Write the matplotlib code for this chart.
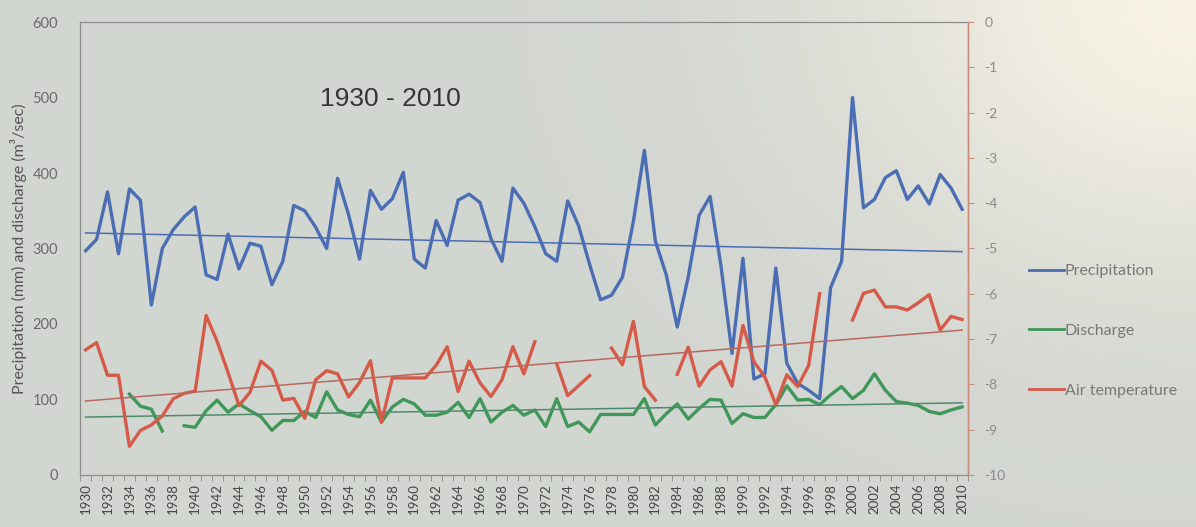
import numpy as np
import matplotlib
matplotlib.use("Agg")
import matplotlib.pyplot as plt

plt.rcParams['font.family'] = ['Lato', 'DejaVu Sans']
plt.rcParams['axes.unicode_minus'] = False

nan = np.nan
years = list(range(1930, 2011))

# precipitation (mm), left axis
precipitation = [297, 312, 375, 293, 379, 364, 225, 300, 325, 342,
                 355, 265, 259, 319, 273, 307, 303, 252, 283, 357,
                 350, 328, 300, 393, 345, 286, 377, 352, 366, 401,
                 286, 274, 337, 304, 364, 372, 361, 313, 283, 380,
                 360, 329, 293, 283, 363, 330, 279, 232, 238, 262,
                 336, 430, 310, 265, 196, 262, 344, 369, 276, 161,
                 287, 127, 134, 274, 148, 121, 112, 101, 248, 283,
                 500, 354, 365, 394, 403, 365, 383, 359, 398, 380,
                 352]

# discharge (m3/sec), left axis
discharge = [nan, nan, nan, nan, 107, 91, 87, 58, nan, 65,
             63, 85, 99, 83, 94, 85, 77, 59, 72, 72,
             84, 76, 110, 86, 80, 77, 99, 70, 90, 100,
             94, 79, 79, 83, 96, 76, 101, 70, 83, 92,
             79, 86, 64, 101, 64, 70, 57, 80, 80, 80,
             80, 101, 66, 81, 94, 74, 88, 100, 99, 68,
             81, 76, 76, 93, 118, 99, 100, 93, 106, 117,
             101, 112, 134, 112, 97, 95, 92, 84, 81, 86,
             90]

# air temperature (deg C), right axis
air_temp = [-7.24, -7.08, -7.80, -7.80, -9.37, -9.02, -8.90, -8.70, -8.32, -8.20,
            -8.15, -6.48, -7.05, -7.74, -8.47, -8.18, -7.49, -7.69, -8.35, -8.31,
            -8.75, -7.90, -7.70, -7.77, -8.28, -7.96, -7.48, -8.84, -7.86, -7.86,
            -7.86, -7.86, -7.58, -7.17, -8.16, -7.49, -7.97, -8.27, -7.90, -7.17,
            -7.77, -7.06, nan, -7.55, -8.25, -8.03, -7.81, nan, -7.20, -7.57,
            -6.61, -8.05, -8.35, nan, -7.78, -7.18, -8.04, -7.68, -7.50, -8.04,
            -6.70, -7.50, -7.84, -8.45, -7.79, -8.05, -7.58, -6.00, nan, nan,
            -6.58, -5.99, -5.92, -6.29, -6.29, -6.36, -6.20, -6.02, -6.80, -6.50,
            -6.57]

blue = '#4a6db3'
green = '#3f9758'
red = '#d65a48'


def trend(x, y):
    x = np.array(x, dtype=float)
    y = np.array(y, dtype=float)
    ok = ~np.isnan(y)
    k, b = np.polyfit(x[ok], y[ok], 1)
    return k * x + b


fig = plt.figure(figsize=(11.96, 5.27), dpi=100)

# photo-like background: grey, brighter towards the top right
gy, gx = np.mgrid[0:1:200j, 0:1:400j]
glow = np.exp(-((gx - 1.0) ** 2 / 0.08 + (gy - 0.0) ** 2 / 0.25))
base = np.array([0.825, 0.840, 0.818])
bright = np.array([0.97, 0.95, 0.90])
grad = base + (bright - base) * glow[..., None]
bg = fig.add_axes([0, 0, 1, 1])
bg.imshow(grad, aspect='auto', extent=[0, 1, 0, 1])
bg.axis('off')

ax = fig.add_axes([0.067, 0.099, 0.742, 0.859])
ax.set_facecolor('none')
ax2 = ax.twinx()

l1, = ax.plot(years, precipitation, color=blue, lw=2.4, label='Precipitation')
l2, = ax.plot(years, discharge, color=green, lw=2.4, label='Discharge')
l3, = ax2.plot(years, air_temp, color=red, lw=2.4, label='Air temperature')

# linear trend lines
ax.plot(years, trend(years, precipitation), color=blue, lw=1.1)
ax.plot(years, trend(years, discharge), color='#4f8a6a', lw=1.1)
ax2.plot(years, trend(years, air_temp), color='#b8685e', lw=1.1)

ax.set_xlim(1929.5, 2010.5)
ax.set_ylim(0, 600)
ax2.set_ylim(-10, 0)

ax.set_yticks(range(0, 601, 100))
ax2.set_yticks(range(-10, 1, 1))
ax.set_xticks(years[::2])
ax.set_xticklabels([str(y) for y in years[::2]], rotation=90)
ax.set_xticks(np.arange(1929.5, 2011, 1), minor=True)

ax.tick_params(axis='y', length=0, pad=16, labelsize=10.5, labelcolor='#6a6a6a')
ax.tick_params(axis='x', which='major', length=0, pad=6, labelsize=9.5, labelcolor='#444444')
ax.tick_params(axis='x', which='minor', length=4, color='#888888', direction='out')
ax2.tick_params(axis='y', length=4, color='#c99080', pad=8, labelsize=10, labelcolor='#8a8a8a')

for s in ['left', 'top', 'bottom']:
    ax.spines[s].set_color('#8c8c8c')
    ax.spines[s].set_linewidth(0.9)
ax2.spines['right'].set_color('#c98a7a')
ax2.spines['right'].set_linewidth(1.0)
for s in ['left', 'top', 'bottom']:
    ax2.spines[s].set_visible(False)

ax.set_ylabel('Precipitation (mm) and discharge (m³/sec)', fontsize=11.5,
              color='#555555', labelpad=4)

ax.text(0.35, 0.83, '1930 - 2010', transform=ax.transAxes, fontsize=19,
        ha='center', va='center', color='#353535', family='Liberation Sans')

leg = fig.legend([l1, l2, l3], ['Precipitation', 'Discharge', 'Air temperature'],
                 loc='center left', bbox_to_anchor=(0.848, 0.372), frameon=False,
                 handlelength=2.2, handletextpad=0.05, labelspacing=2.85, fontsize=11.5)
for t in leg.get_texts():
    t.set_color('#787878')
for h in leg.get_lines():
    h.set_linewidth(2.0)

plt.savefig('out.png', dpi=100)
